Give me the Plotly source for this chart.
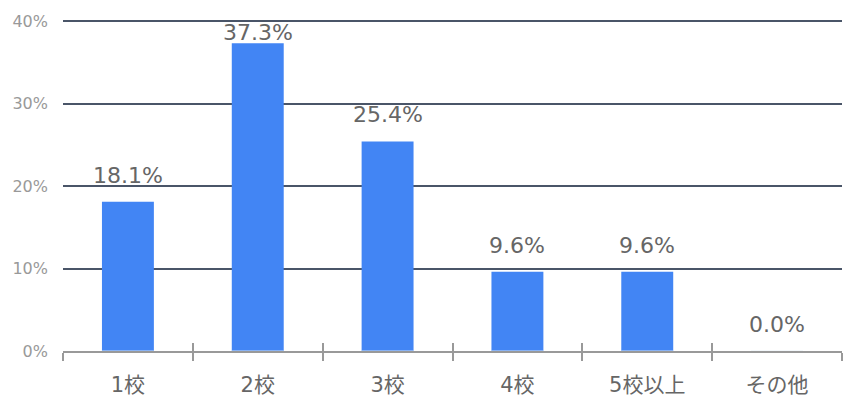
import plotly.graph_objects as go

categories = ["1校", "2校", "3校", "4校", "5校以上", "その他"]
values = [18.1, 37.3, 25.4, 9.6, 9.6, 0.0]
labels = ["18.1%", "37.3%", "25.4%", "9.6%", "9.6%", "0.0%"]
y_ticks = [0, 10, 20, 30, 40]
y_tick_labels = ["0%", "10%", "20%", "30%", "40%"]

FONT = "DejaVu Sans, Noto Sans CJK JP, sans-serif"
Y_MAX = 40.25
TOP, BOTTOM = 17, 69
PX_PER_UNIT = (420 - TOP - BOTTOM) / Y_MAX

fig = go.Figure()
fig.add_trace(go.Bar(
    x=categories, y=values,
    marker=dict(color="#4285F4", line=dict(width=0)),
    hoverinfo="skip",
))
fig.add_trace(go.Bar(
    x=categories, y=[0]*len(categories), xaxis="x2", yaxis="y",
    marker=dict(color="rgba(0,0,0,0)"), hoverinfo="skip", showlegend=False,
))
for c, v, t in zip(categories, values, labels):
    room = (40 - v) * PX_PER_UNIT - 26
    fig.add_annotation(
        x=c, y=v, text=t, showarrow=False, xanchor="center", yanchor="bottom",
        yshift=min(12, room),
        font=dict(family=FONT, size=22, color="#666666"),
    )
fig.update_layout(
    width=860, height=420,
    margin=dict(l=62, r=18, t=TOP, b=BOTTOM),
    plot_bgcolor="white", paper_bgcolor="white",
    showlegend=False, bargap=0.6,
    xaxis=dict(
        type="category", tickson="boundaries", ticks="outside", ticklen=8,
        tickwidth=2, tickcolor="#999999",
        showline=True, linecolor="#999999", linewidth=2,
        showgrid=False, tickfont=dict(family=FONT, size=21, color="#666666"),
        ticklabelstandoff=14,
    ),
    xaxis2=dict(
        type="category", overlaying="x", matches="x", tickson="boundaries",
        ticks="inside", ticklen=8, tickwidth=2, tickcolor="#999999",
        showticklabels=False, showgrid=False, showline=False, side="bottom",
    ),
    yaxis=dict(
        range=[0, Y_MAX], tickvals=y_ticks, ticktext=y_tick_labels,
        showgrid=True, gridcolor="#4a5568", gridwidth=1.5, zeroline=False,
        tickfont=dict(family=FONT, size=16, color="#999999"),
        ticklabelstandoff=14, fixedrange=True,
    ),
)
fig.write_html("out.html")
